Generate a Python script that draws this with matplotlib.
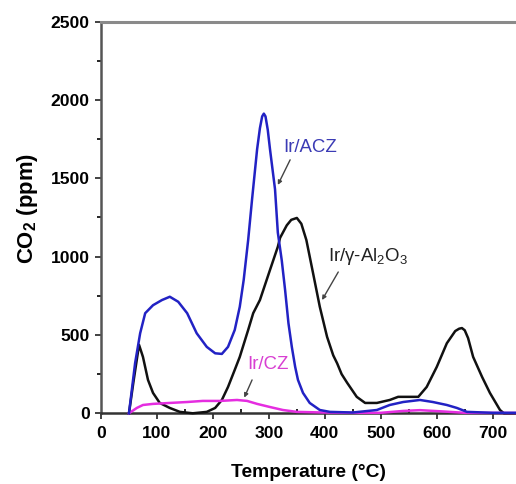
import matplotlib
matplotlib.use('Agg')
import matplotlib.pyplot as plt
from matplotlib import font_manager
from matplotlib.ticker import MultipleLocator

# narrow font if we have one, else squeeze the normal one a bit smaller
try:
    font_manager.findfont('Liberation Sans Narrow', fallback_to_default=False)
    FAMILY, SCALE = 'Liberation Sans Narrow', 1.0
except ValueError:
    FAMILY, SCALE = 'Liberation Sans', 0.84

plt.rcParams['font.family'] = [FAMILY, 'DejaVu Sans']
plt.rcParams['mathtext.fontset'] = 'custom'
plt.rcParams['mathtext.rm'] = FAMILY
plt.rcParams['mathtext.bf'] = FAMILY + ':bold'

# --- values ---
acz_t = [50, 61, 70, 79, 93, 109, 123, 138, 154, 171, 189, 204, 216, 227, 239,
         248, 255, 263, 270, 279, 284, 288, 291, 294, 298, 302, 311, 316, 323,
         329, 335, 341, 347, 352, 361, 373, 391, 409, 450, 493, 516, 540, 570,
         593, 618, 636, 654, 700, 742]
acz_co2 = [0, 321, 511, 639, 690, 723, 744, 712, 639, 511, 424, 383, 379, 424,
           532, 680, 851, 1106, 1367, 1686, 1820, 1895, 1913, 1895, 1810, 1686,
           1430, 1154, 977, 787, 575, 424, 296, 213, 130, 66, 21, 9, 5, 21, 53,
           72, 85, 72, 53, 34, 9, 3, 3]

al_t = [50, 58, 68, 75, 84, 93, 105, 123, 141, 164, 189, 204, 216, 227, 239,
        248, 263, 272, 284, 302, 316, 320, 332, 340, 350, 358, 367, 379, 391,
        404, 415, 422, 430, 440, 457, 472, 493, 516, 531, 567, 582, 600, 618,
        633, 640, 645, 650, 656, 665, 681, 695, 713, 720, 742]
al_co2 = [0, 200, 437, 360, 213, 130, 66, 34, 9, 0, 9, 34, 85, 168, 277, 360,
          532, 639, 723, 915, 1063, 1120, 1200, 1235, 1247, 1210, 1106, 894,
          680, 488, 370, 319, 250, 194, 105, 66, 66, 85, 105, 105, 168, 296,
          447, 525, 540, 544, 530, 480, 360, 232, 130, 21, 0, 0]

cz_t = [50, 64, 75, 93, 123, 154, 182, 213, 243, 261, 279, 302, 325, 350, 397,
        450, 500, 540, 570, 610, 650, 742]
cz_co2 = [0, 34, 53, 60, 66, 72, 79, 79, 85, 79, 60, 40, 21, 9, 5, 3, 3, 15,
          20, 12, 3, 2]

fig = plt.figure(figsize=(5.16, 4.84), dpi=100)
ax = fig.add_axes([0.1957, 0.1461, 0.8043, 0.8091])

ax.plot(al_t, al_co2, color='#111111', lw=1.8, clip_on=False, zorder=3)
ax.plot(cz_t, cz_co2, color='#e52de0', lw=1.8, clip_on=False, zorder=4)
ax.plot(acz_t, acz_co2, color='#2222c4', lw=1.8, clip_on=False, zorder=5)

ax.set_xlim(0, 741.6)
ax.set_ylim(0, 2500)
ax.xaxis.set_major_locator(MultipleLocator(100))
ax.xaxis.set_minor_locator(MultipleLocator(50))
ax.yaxis.set_major_locator(MultipleLocator(500))
ax.yaxis.set_minor_locator(MultipleLocator(250))

for lab in ax.get_xticklabels() + ax.get_yticklabels():
    lab.set_fontweight('bold')
ax.tick_params(which='major', direction='out', length=4, width=1.3,
               labelsize=15 * SCALE, color='#333333')
ax.tick_params(axis='x', which='major', pad=5)
ax.tick_params(axis='y', which='major', pad=4)
ax.tick_params(axis='x', which='minor', direction='in', length=3, width=1.2)
ax.tick_params(axis='y', which='minor', direction='out', length=3, width=1.2)

ax.spines['right'].set_visible(False)
ax.spines['top'].set_color('#8a8a8a')
ax.spines['top'].set_linewidth(2.2)
ax.spines['left'].set_color('#555555')
ax.spines['left'].set_linewidth(1.8)
ax.spines['bottom'].set_color('#333333')
ax.spines['bottom'].set_linewidth(1.8)

ax.set_xlabel('Temperature (°C)', fontsize=16.5 * SCALE, fontweight='bold',
              va='center')
ax.xaxis.set_label_coords(0.501, -0.15)
ax.set_ylabel(r'CO$_\mathbf{2}$ (ppm)', fontsize=19 * SCALE, fontweight='bold',
              va='center')
ax.yaxis.set_label_coords(-0.176, 0.524)

arrow = dict(arrowstyle='-|>', color='#444444', lw=1.0, mutation_scale=6,
             shrinkA=0, shrinkB=0)
ax.text(325, 1694, 'Ir/ACZ', color='#3b3bb5', fontsize=16 * SCALE,
        va='center', ha='left')
ax.annotate('', xy=(316, 1458), xytext=(338, 1618), arrowprops=arrow)
ax.text(406, 998, r'Ir/γ-Al$_\mathrm{2}$O$_\mathrm{3}$', color='#222222',
        fontsize=16 * SCALE, va='center', ha='left')
ax.annotate('', xy=(395, 723), xytext=(424, 902), arrowprops=arrow)
ax.text(261, 309, 'Ir/CZ', color='#d83fd2', fontsize=16 * SCALE,
        va='center', ha='left')
ax.annotate('', xy=(256, 100), xytext=(270, 213), arrowprops=arrow)

fig.savefig('out.png', dpi=100)
